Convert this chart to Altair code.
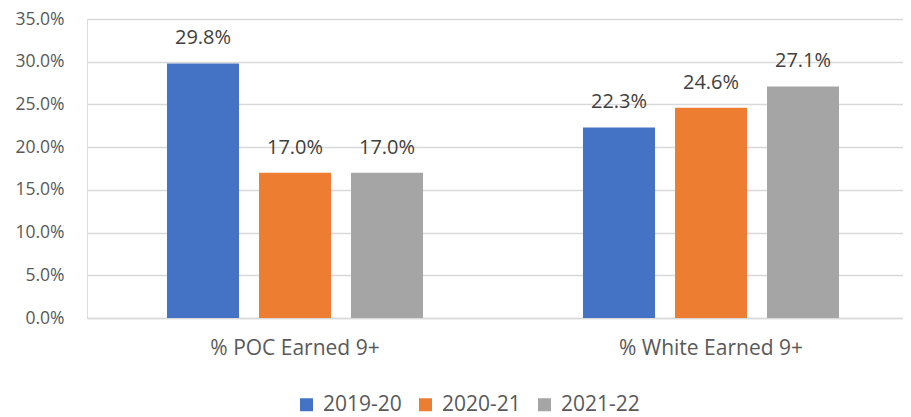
import altair as alt
import pandas as pd

groups = ["% POC Earned 9+", "% White Earned 9+"]
years = ["2019-20", "2020-21", "2021-22"]
poc = [0.298, 0.170, 0.170]
white = [0.223, 0.246, 0.271]
colors = ["#4472C4", "#ED7D31", "#A5A5A5"]

rows = []
for g, vals in zip(groups, [poc, white]):
    for y, v in zip(years, vals):
        rows.append({"group": g, "year": y, "value": v})
df = pd.DataFrame(rows)

FONT = "Open Sans"

base = alt.Chart(df).encode(
    x=alt.X("group:N", sort=groups, title=None,
            scale=alt.Scale(paddingInner=0, paddingOuter=0, range=[0, 832]),
            axis=alt.Axis(labelAngle=0, labelFontSize=21, labelColor="#595959",
                          labelFont=FONT, labelPadding=19, ticks=False, labelLimit=400,
                          domainColor="#D9D9D9", domainWidth=1.5)),
    xOffset=alt.XOffset("year:N", sort=years,
                        scale=alt.Scale(paddingInner=0.2174, paddingOuter=0.8696)),
)

bars = base.mark_bar().encode(
    y=alt.Y("value:Q", title=None,
            scale=alt.Scale(domain=[0, 0.35]),
            axis=alt.Axis(format=".1%", values=[0, 0.05, 0.1, 0.15, 0.2, 0.25, 0.3, 0.35],
                          labelFontSize=17.5, labelColor="#595959", labelFont=FONT,
                          labelPadding=23, ticks=False, domain=False,
                          gridColor="#D9D9D9", gridWidth=1.5)),
    color=alt.Color("year:N", sort=years, title=None,
                    scale=alt.Scale(domain=years, range=colors),
                    legend=alt.Legend(orient="none", legendX=209, legendY=375,
                                      direction="horizontal", symbolType="square",
                                      symbolSize=169, symbolStrokeWidth=0,
                                      labelFontSize=21, labelColor="#595959",
                                      labelFont=FONT, columnPadding=13,
                                      labelOffset=6)),
)

labels = base.mark_text(dy=-25, fontSize=20, color="#404040", font=FONT).encode(
    y=alt.Y("value:Q"),
    text=alt.Text("value:Q", format=".1%"),
)

chart = (bars + labels).properties(
    width=816, height=299,
    autosize=alt.AutoSizeParams(type="none"),
    padding={"left": 79, "top": 11, "right": 0, "bottom": 99},
).configure_view(stroke=None).configure(background="white")

chart.save("out.html", embed_options={"renderer": "svg", "actions": False})
